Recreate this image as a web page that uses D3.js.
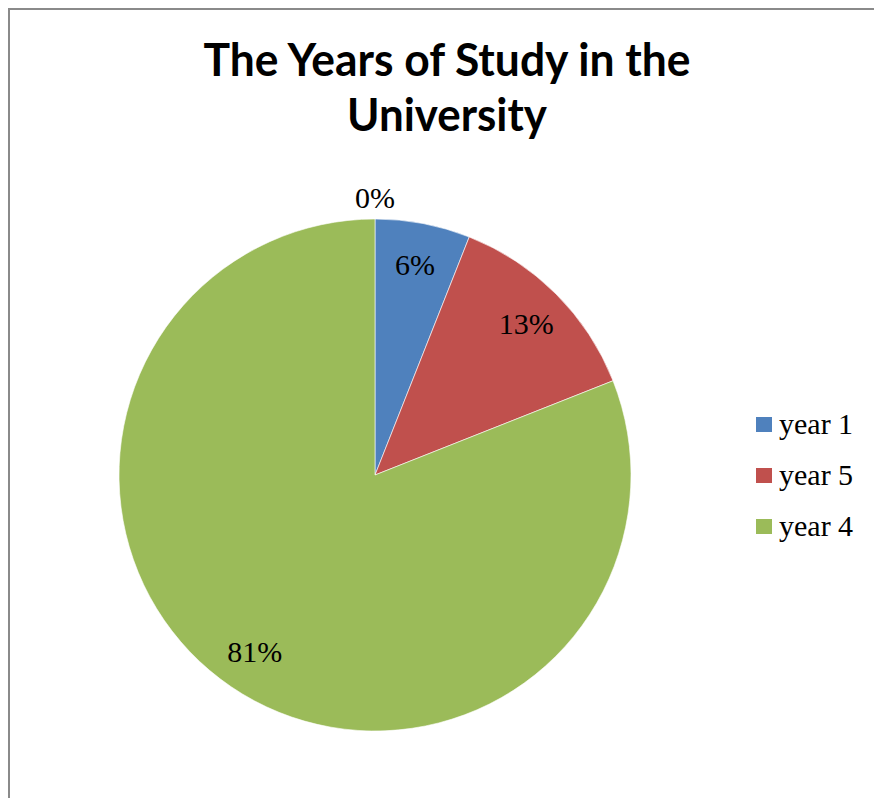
<!DOCTYPE html>
<html>
<head>
<meta charset="utf-8">
<script src="https://cdn.jsdelivr.net/npm/d3@7/dist/d3.min.js"></script>
<style>
  html, body { margin: 0; padding: 0; background: #fff; }
  svg { display: block; }
</style>
</head>
<body>
<svg id="chart" width="874" height="798"></svg>
<script>
// Survey answers: year of study (percent of respondents)
const categories = ["year 1", "year 5", "year 4", ""];
const values = [6, 13, 81, 0];
const colors = ["#4F81BD", "#C0504D", "#9BBB59", "#8064A2"];
const titleLines = ["The Years of Study in the", "University"];

const W = 874, H = 798;
const svg = d3.select("#chart");

// outer chart frame (top and left edges visible)
svg.append("path")
  .attr("d", `M9,${H} V9 H${W}`)
  .attr("fill", "none")
  .attr("stroke", "#8a8a8a")
  .attr("stroke-width", 2);

// title, two lines, narrow bold face
const title = svg.append("g")
  .attr("font-family", "Lato, 'Open Sans', sans-serif")
  .attr("font-weight", "bold")
  .attr("font-size", 46)
  .attr("fill", "#000")
  .attr("text-anchor", "middle");
title.append("text").attr("x", 447).attr("y", 76)
  .attr("textLength", 487).attr("lengthAdjust", "spacingAndGlyphs")
  .text(titleLines[0]);
title.append("text").attr("x", 447).attr("y", 131)
  .attr("textLength", 200).attr("lengthAdjust", "spacingAndGlyphs")
  .text(titleLines[1]);

// pie, clockwise from 12 o'clock
const cx = 375, cy = 475, R = 256;
const data = categories.map((c, i) => ({ name: c, value: values[i], color: colors[i] }));
const total = d3.sum(values);
const pie = d3.pie().sort(null).value(d => d.value);
const arcs = pie(data);
const arc = d3.arc().innerRadius(0).outerRadius(R);
const labelArc = d3.arc().innerRadius(214).outerRadius(214);
const outerLabelArc = d3.arc().innerRadius(278).outerRadius(278);

const g = svg.append("g").attr("transform", `translate(${cx},${cy})`);
g.selectAll("path.slice")
  .data(arcs)
  .join("path")
  .attr("class", "slice")
  .attr("d", arc)
  .attr("fill", d => d.data.color)
  .attr("stroke", "#fff")
  .attr("stroke-width", d => d.data.value > 0 ? 0.6 : 0);

// percentage labels: inside the slice, or just outside the rim for empty slices
g.selectAll("text.pct")
  .data(arcs)
  .join("text")
  .attr("class", "pct")
  .attr("transform", d => {
    const p = d.data.value > 0 ? labelArc.centroid(d) : outerLabelArc.centroid(d);
    return `translate(${p[0]},${p[1]})`;
  })
  .attr("text-anchor", "middle")
  .attr("dy", "0.35em")
  .attr("font-family", "'Liberation Serif', 'Times New Roman', serif")
  .attr("font-size", 30)
  .attr("fill", "#000")
  .text(d => Math.round(d.data.value / total * 100) + "%");

// legend (named categories only)
const legendItems = data.filter(d => d.name !== "");
const legend = svg.append("g").attr("transform", "translate(756,417)");
const row = legend.selectAll("g")
  .data(legendItems)
  .join("g")
  .attr("transform", (d, i) => `translate(0,${i * 51})`);
row.append("rect")
  .attr("width", 16).attr("height", 15)
  .attr("fill", d => d.color);
row.append("text")
  .attr("x", 23).attr("y", 17)
  .attr("font-family", "'Liberation Serif', 'Times New Roman', serif")
  .attr("font-size", 30)
  .attr("fill", "#000")
  .text(d => d.name);
</script>
</body>
</html>
